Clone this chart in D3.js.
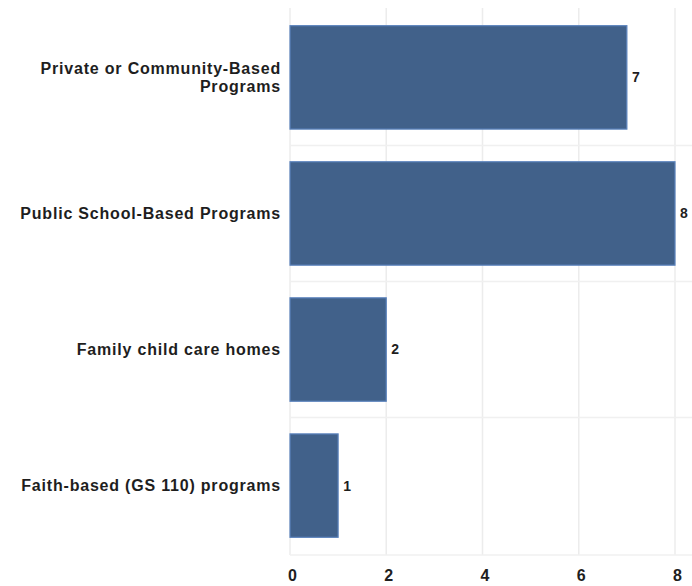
<!DOCTYPE html>
<html>
<head>
<meta charset="utf-8">
<script src="https://cdn.jsdelivr.net/npm/d3@7"></script>
<style>
  body { margin: 0; background: #fff; }
  text { font-family: "Liberation Sans", Arial, sans-serif; font-weight: bold; fill: #1e1e1e; }
</style>
</head>
<body>
<div class="container"></div>
<script>
// Data
const categories = [
  ["Private or Community-Based", "Programs"],
  ["Public School-Based Programs"],
  ["Family child care homes"],
  ["Faith-based (GS 110) programs"]
];
const values = [7, 8, 2, 1];
const xTicks = [0, 2, 4, 6, 8];

const w = 692;
const h = 586;
const plotL = 290, plotR = 675, plotT = 8, plotB = 555;

const ids = categories.map((d, i) => i);

const xScale = d3.scaleLinear().domain([0, 8]).range([plotL, plotR]);
const yScale = d3.scaleBand().domain(ids).range([plotT, plotB]).paddingInner(0.24).paddingOuter(0.13);

const svg = d3.select(".container")
  .append("svg")
  .attr("width", w)
  .attr("height", h);

// vertical gridlines
svg.selectAll(".vgrid")
  .data(xTicks)
  .enter()
  .append("line")
  .attr("x1", d => xScale(d))
  .attr("x2", d => xScale(d))
  .attr("y1", plotT)
  .attr("y2", plotB)
  .attr("stroke", "#ececec")
  .attr("stroke-width", 1.5);

// horizontal band separators
const step = yScale.step();
const seps = ids.slice(1).map(i => yScale(i) - step * 0.12);
svg.selectAll(".hgrid")
  .data(seps.concat([plotB]))
  .enter()
  .append("line")
  .attr("x1", plotL)
  .attr("x2", w)
  .attr("y1", d => d)
  .attr("y2", d => d)
  .attr("stroke", "#f0f0f0")
  .attr("stroke-width", 1.5);

// bars
svg.selectAll("rect")
  .data(values)
  .enter()
  .append("rect")
  .attr("x", xScale(0))
  .attr("y", (d, i) => yScale(i))
  .attr("width", d => xScale(d) - xScale(0))
  .attr("height", yScale.bandwidth())
  .attr("fill", "#41618a")
  .attr("stroke", "#5b83bd")
  .attr("stroke-width", 1.2);

// value labels
svg.selectAll(".val")
  .data(values)
  .enter()
  .append("text")
  .attr("x", d => xScale(d) + 5)
  .attr("y", (d, i) => yScale(i) + yScale.bandwidth() / 2)
  .attr("dy", "0.35em")
  .style("font-size", "14px")
  .style("letter-spacing", "0.5px")
  .text(d => d);

// category labels
const cat = svg.selectAll(".cat")
  .data(categories)
  .enter()
  .append("text")
  .attr("text-anchor", "end")
  .style("font-size", "16px")
  .style("letter-spacing", "0.8px")
  .attr("y", (d, i) => yScale(i) + yScale.bandwidth() / 2);
cat.each(function(d) {
  const t = d3.select(this);
  d.forEach((line, j) => {
    t.append("tspan")
      .attr("x", plotL - 9)
      .attr("dy", j === 0 ? (0.35 - (d.length - 1) * 0.55) + "em" : "1.1em")
      .text(line);
  });
});

// x axis
const xAxis = d3.axisBottom(xScale).tickValues(xTicks).tickSize(0).tickPadding(15);
const gx = svg.append("g")
  .attr("transform", `translate(2,${plotB})`)
  .call(xAxis);
gx.select(".domain").remove();
gx.selectAll("text").style("font-size", "16px").style("font-family", "'Liberation Sans', Arial, sans-serif").attr("fill", "#1e1e1e");
</script>
</body>
</html>
